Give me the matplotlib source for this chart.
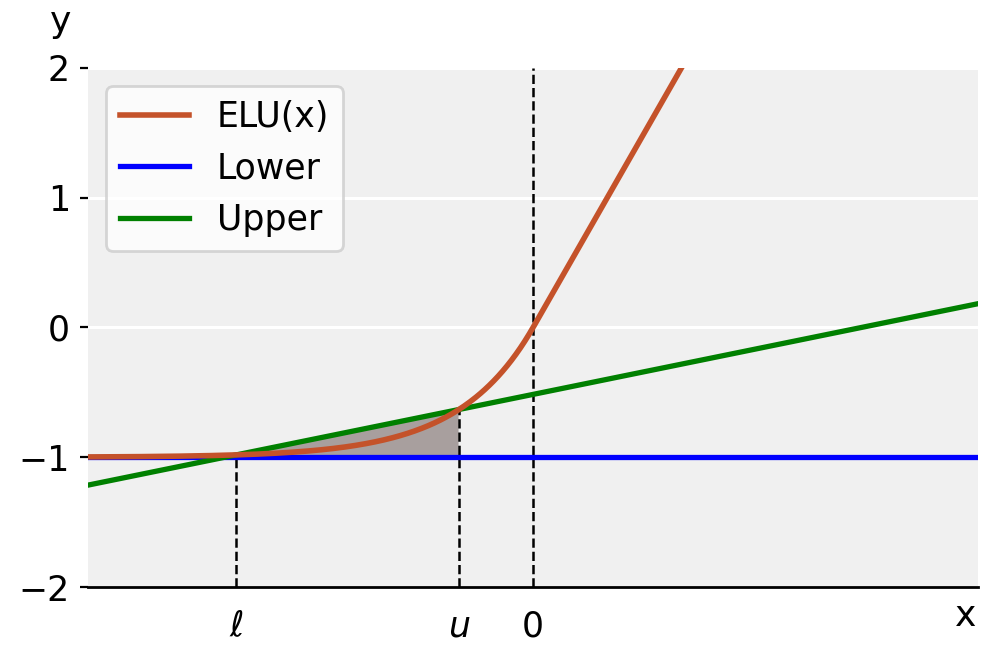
import numpy as np
import matplotlib
matplotlib.use("Agg")
import matplotlib.pyplot as plt

# interval bounds and plot window
lower_x = -4.0
upper_x = -1.0
x_range = [-6.0, 6.0]
y_range = [-2.0, 2.0]
y_ticks = [-2, -1, 0, 1, 2]
x_tick_labels = [r"$\ell$", r"$u$", "0"]


def elu(x):
    return np.where(x > 0, x, np.exp(x) - 1.0)


xs = np.linspace(x_range[0], x_range[1], 600)
y_l = float(elu(np.array(lower_x)))
y_u = float(elu(np.array(upper_x)))
slope = (y_u - y_l) / (upper_x - lower_x)
upper_line = y_l + slope * (xs - lower_x)
lower_line = np.full_like(xs, -1.0)

plt.rcParams["font.size"] = 12.5

fig = plt.figure(figsize=(4.98, 3.3), dpi=200)
ax = fig.add_axes([0.0884, 0.1106, 0.8936, 0.7864])
ax.set_facecolor("#f0f0f0")

ax.plot(xs, lower_line, color="#0000ff", lw=1.9, label="Lower", zorder=3)
ax.plot(xs, upper_line, color="#008000", lw=1.9, label="Upper", zorder=3)
ax.plot(xs, elu(xs), color="#c4522a", lw=2.0, label="ELU(x)", zorder=4)

mask = (xs >= lower_x) & (xs <= upper_x)
ax.fill_between(xs[mask], -1.0, upper_line[mask], color="#a89f9e", lw=0, zorder=2)

ax.vlines([lower_x, upper_x], y_range[0], [y_l, y_u], colors="k",
          linestyles="--", lw=0.9, zorder=2.5)
ax.vlines([0.0], y_range[0], y_range[1], colors="k", linestyles="--", lw=0.9, zorder=2.5)

ax.set_xlim(*x_range)
ax.set_ylim(*y_range)
ax.set_yticks(y_ticks)
ax.set_xticks([lower_x, upper_x, 0.0])
ax.set_xticklabels(x_tick_labels)
ax.tick_params(axis="x", length=0, pad=8)
ax.tick_params(axis="y", length=3, width=0.8)
ax.yaxis.grid(True, color="white", lw=1.1)
ax.set_axisbelow(True)

for side in ["top", "right", "left"]:
    ax.spines[side].set_visible(False)
ax.spines["bottom"].set_linewidth(1.0)

fig.text(0.061, 0.966, "y", ha="center", va="center", fontsize=13)
fig.text(0.970, 0.066, "x", ha="center", va="center", fontsize=13)

handles, labels = ax.get_legend_handles_labels()
order = [2, 0, 1]
ax.legend([handles[i] for i in order], [labels[i] for i in order],
          loc="upper left", bbox_to_anchor=(0.0005, 0.998), fontsize=12.5)

fig.savefig("out.png", dpi=200)
